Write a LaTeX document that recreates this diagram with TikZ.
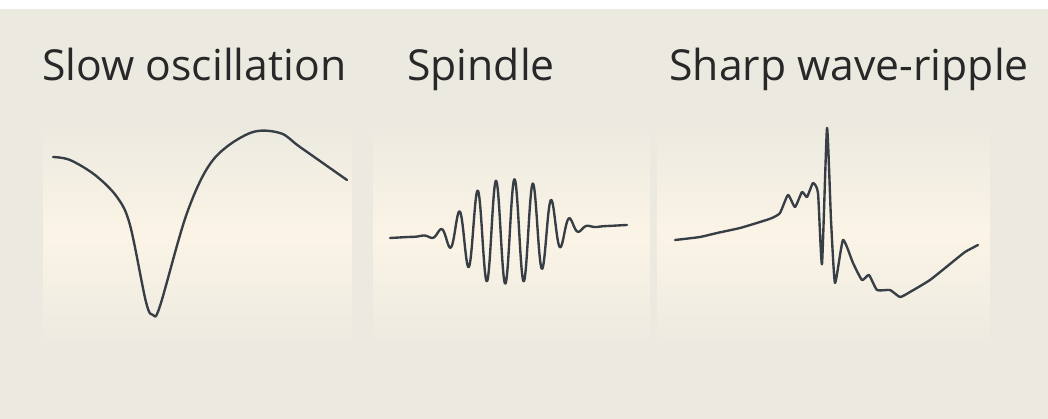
\documentclass[tikz,border=0pt]{standalone}
\usepackage{fontspec}
\setmainfont{Open Sans}
\usetikzlibrary{positioning}
\definecolor{PageWhite}{RGB}{255,255,255}
\definecolor{Paper}{RGB}{236,234,224}
\definecolor{Cream}{RGB}{251,244,230}
\definecolor{Ink}{RGB}{40,40,40}
\definecolor{Trace}{RGB}{55,62,70}
\tikzset{
  title/.style={anchor=base west,inner sep=0pt,text=Ink,font=\fontsize{24.3}{29}\selectfont},
  panel/.style={top color=Paper,bottom color=Paper,middle color=Cream},
  wave/.style={draw=Trace,line width=1.35pt,line join=round,line cap=round}
}

\begin{document}
\begin{tikzpicture}[x=0.02cm,y=-0.02cm]
  % page and backdrop
  \fill[PageWhite] (0,0) rectangle (1048,419);
  \fill[Paper] (0,9) rectangle (1048,419);
  \useasboundingbox (0,0) rectangle (1048,419);
  % panels
  \fill[panel] (43,127) rectangle (352,343);
  \fill[panel] (373,127) rectangle (650,343);
  \fill[panel] (657,127) rectangle (990,343);
  % titles
  \node[title] (slowtitle) at (42,80) {Slow oscillation};
  \node[title] (spindletitle) at (407,80) {Spindle};
  \node[title] (swrtitle) at (669,80) {Sharp wave-ripple};
  % slow oscillation
  \draw[wave] plot[smooth,tension=0.55] coordinates {(53,157) (70,160) (95,175) (117,197) (130,225) (146,302) (153,315) (160,306) (187,213) (213,160) (250,133) (280,133) (300,147) (347,180)};
  % spindle
  \draw[wave] plot[domain=-118:119,samples=600]
    ({508+\x},{231.5-0.055*\x-52*exp(-(abs(\x/52))^3)*cos(19.46*(\x+12))});
  % sharp wave-ripple
  \draw[wave] plot[smooth,tension=0.3] coordinates {(675,240) (700,237) (717,233) (740,228) (760,222) (772,218) (780,213) (788,195) (795,207) (802,192) (807,197) (813,183) (818,193) (822,264) (827,128) (831,220) (835,283) (843,240) (853,263) (862,280) (869,275) (877,290) (890,290) (900,297) (910,292) (930,280) (950,264) (965,252) (978,245)};
\end{tikzpicture}
\end{document}
